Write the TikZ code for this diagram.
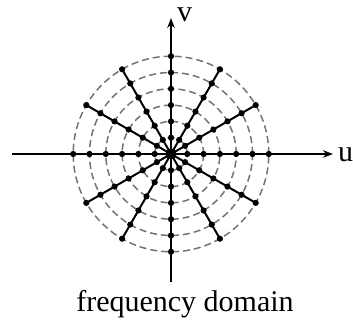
\documentclass[tikz,border=0pt]{standalone}
\usepackage{fontspec}
\setmainfont{Liberation Serif}
\usetikzlibrary{arrows.meta,calc}
\begin{document}
\begin{tikzpicture}[x=1pt,y=1pt,
  axis/.style={line width=1.5pt,-{Stealth[length=10pt,width=7.5pt]}},
  ring/.style={black!55,line width=1.5pt,dash pattern=on 7pt off 4pt},
  spoke/.style={line width=2pt},
  dot/.style={circle,fill=black,inner sep=0pt,minimum size=6.2pt},
  lbl/.style={font=\fontsize{30}{36}\selectfont,inner sep=0pt}]
\useasboundingbox (0,0) rectangle (353,320);
\coordinate (O) at (171,166);
\foreach \k in {1,...,6}{
  \draw[ring] (O) circle ({16.3*\k});
}
\coordinate (L) at (12,166);
\coordinate (R) at (333,166);
\coordinate (B) at (171,38);
\coordinate (T) at (171,302);
\draw[axis] (L) -- (R);
\draw[axis] (B) -- (T);
\foreach \a in {0,30,...,330}{
  \draw[spoke] (O) -- ++(\a:98) coordinate (S\a);
  \foreach \k in {1,...,6}{
    \node[dot] at ($(O)+(\a:{16.3*\k})$) {};
  }
}
\node[circle,fill=black,inner sep=0pt,minimum size=11pt] (C) at (O) {};
\node[lbl,anchor=base west] (u) at (338,158) {u};
\node[lbl,anchor=base west] (v) at (177,298) {v};
\node[lbl,anchor=base] (cap) at (185,8) {frequency domain};
\end{tikzpicture}
\end{document}
